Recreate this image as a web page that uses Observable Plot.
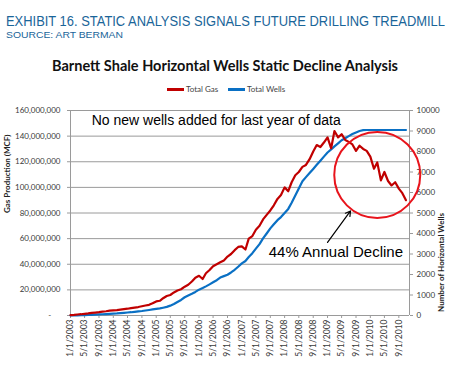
<!DOCTYPE html>
<html><head><meta charset="utf-8">
<script src="https://cdn.jsdelivr.net/npm/d3@7"></script>
<script src="https://cdn.jsdelivr.net/npm/@observablehq/plot@0.6"></script>
<style>
body{margin:0;width:450px;height:375px;overflow:hidden;background:#fff;position:relative;font-family:"Liberation Sans",Arial,sans-serif}
.abs{position:absolute;white-space:nowrap;line-height:1}
#h1{left:6px;top:14px;font-size:14px;color:#1a6599;transform-origin:0 0}
#h2{left:6px;top:30px;font-size:9.6px;color:#1a6599;transform-origin:0 0}
#t{top:55px;font:bold 16px Lato,sans-serif;color:#111;transform-origin:0 0}
.sw{position:absolute;width:17px;height:3px}
.lt{position:absolute;font:8px Lato,sans-serif;color:#444;line-height:1}
#chart{position:absolute;left:0;top:100px}
</style></head>
<body>
<div id="h1" class="abs">EXHIBIT 16. STATIC ANALYSIS SIGNALS FUTURE DRILLING TREADMILL</div>
<div id="h2" class="abs">SOURCE: ART BERMAN</div>
<div id="t" class="abs">Barnett Shale Horizontal Wells Static Decline Analysis</div>
<div class="sw" style="left:167px;top:88px;background:#c00000"></div>
<div class="lt" style="left:186px;top:85px">Total Gas</div>
<div class="sw" style="left:228px;top:88px;background:#0a70c4"></div>
<div class="lt" style="left:247px;top:85px">Total Wells</div>
<div id="chart"></div>
<script>
// ---- data (monthly, Jan 2003 .. Nov 2010) ----
const startMonth = Date.UTC(2003, 0, 1);
const endMonth = Date.UTC(2010, 11, 1);
const totalGasMillionMCF = [
  0.3, 0.5, 0.8, 1.0, 1.3, 1.6, 2.0, 2.3, 2.6, 3.0, 3.3, 3.8,
  4.0, 4.2, 4.6, 5.0, 5.3, 5.8, 6.2, 6.6, 7.2, 7.8, 8.3, 9.5,
  11.0, 11.5, 13.5, 15.2, 16.0, 18.0, 19.5, 20.5, 22.5, 24.0, 26.5, 29.5,
  31.0, 28.5, 33.0, 35.5, 38.5, 40.0, 41.5, 43.0, 46.0, 48.0, 51.0, 53.5,
  54.0, 51.5, 60.0, 62.0, 67.0, 70.0, 75.0, 78.5, 82.0, 86.0, 91.0, 94.0,
  100.0, 97.0, 104.0, 109.5, 112.0, 116.0, 117.5, 122.0, 128.0, 133.0, 131.5, 135.0,
  139.0, 130.5, 144.0, 139.0, 141.5, 137.0, 135.5, 133.5, 128.5, 132.5, 130.0, 128.5,
  124.0, 114.5, 119.5, 105.5, 112.0, 105.0, 101.5, 104.0, 99.0, 95.5, 90.0
];
const totalWells = [
  0, 5, 10, 15, 20, 30, 35, 45, 55, 60, 70, 80,
  90, 100, 115, 130, 145, 160, 180, 200, 220, 245, 270, 295,
  320, 345, 380, 420, 480, 560, 660, 760, 890, 980, 1060, 1150,
  1260, 1340, 1420, 1520, 1620, 1720, 1850, 1920, 1990, 2100, 2230, 2380,
  2540, 2660, 2850, 3040, 3260, 3480, 3760, 4000, 4250, 4450, 4650, 4800,
  5000, 5200, 5500, 5850, 6200, 6550, 6750, 6950, 7150, 7350, 7550, 7750,
  7950, 8100, 8250, 8400, 8550, 8650, 8750, 8850, 8930, 9000, 9040, 9050,
  9050, 9050, 9050, 9050, 9050, 9050, 9050, 9050, 9050, 9050, 9050
];
const gasTicks = [0, 20e6, 40e6, 60e6, 80e6, 100e6, 120e6, 140e6, 160e6];
const wellTicks = [0, 1000, 2000, 3000, 4000, 5000, 6000, 7000, 8000, 9000, 10000];
const wellsMax = 10000, gasMax = 160e6;

// annotations
const noteTop = {text: "No new wells added for last year of data", date: Date.UTC(2003, 6, 1), gas: 152e6};
const noteDecline = {text: "44% Annual Decline", date: Date.UTC(2009, 2, 13), gas: 49.2e6};
const circleNote = {date: Date.UTC(2010, 2, 1), gas: 109.7e6};
const arrowNote = {d1: Date.UTC(2009, 0, 1), g1: 57e6, d2: Date.UTC(2009, 6, 16), g2: 81.6e6};

// ---- build table ----
const months = d3.utcMonth.range(new Date(startMonth), new Date(endMonth));
const K = gasMax / wellsMax;
const rows = months.map((d, i) => ({date: d, gas: totalGasMillionMCF[i] * 1e6, wells: totalWells[i], wellsScaled: totalWells[i] * K}));
const xTicks = d3.utcMonth.every(4).range(new Date(startMonth), new Date(endMonth));
const fmtDate = d => `${d.getUTCMonth() + 1}/1/${d.getUTCFullYear()}`;
const axisColor = "#9a9a9a";

const chart = Plot.plot({
  width: 450, height: 275,
  marginLeft: 70, marginRight: 41, marginTop: 10, marginBottom: 60,
  style: {fontFamily: "Lato, sans-serif", fontSize: "8px", color: "#3a3a3a", background: "transparent", overflow: "visible"},
  x: {type: "utc", domain: [new Date(startMonth), new Date(endMonth)]},
  y: {domain: [0, gasMax]},
  marks: [
    Plot.ruleY(gasTicks, {stroke: axisColor, strokeWidth: 1}),
    Plot.ruleX([new Date(startMonth)], {stroke: axisColor}),
    Plot.ruleX([new Date(endMonth)], {stroke: axisColor}),
    Plot.axisY({ticks: gasTicks, tickFormat: d => d === 0 ? "-\u2007\u2007" : d3.format(",")(d), tickSize: 3, tickPadding: 7, stroke: axisColor, label: null, fontSize: 8}),
    Plot.axisY({anchor: "right", ticks: wellTicks.map(w => w * K), tickFormat: d => String(Math.round(d / K)), tickSize: 3, tickPadding: 4, stroke: axisColor, label: null, fontSize: 8}),
    Plot.axisX({ticks: xTicks, tickFormat: fmtDate, tickRotate: -90, tickSize: 3, tickPadding: 1, stroke: axisColor, label: null, fontSize: 8.5}),
    Plot.text(["Gas Production (MCF)"], {frameAnchor: "left", dx: -63, rotate: -90, fontWeight: "bold", fontSize: 8, fill: "#222"}),
    Plot.text(["Number of Horizontal Wells"], {frameAnchor: "right", dx: 32, rotate: -90, fontWeight: "bold", fontSize: 8, fill: "#222"}),
    Plot.line(rows, {x: "date", y: "wellsScaled", stroke: "#0a70c4", strokeWidth: 2.2}),
    Plot.line(rows, {x: "date", y: "gas", stroke: "#c00000", strokeWidth: 2.2}),
    Plot.dot([circleNote], {x: d => new Date(d.date), y: "gas", r: 43, stroke: "#e8141c", strokeWidth: 2, fill: "none"}),
    Plot.arrow([arrowNote], {x1: d => new Date(d.d1), y1: "g1", x2: d => new Date(d.d2), y2: "g2", stroke: "#000", strokeWidth: 1.2, headLength: 7}),
    Plot.text([noteTop], {x: d => new Date(d.date), y: "gas", text: "text", textAnchor: "start", fontSize: 14, fontFamily: "Liberation Sans, Arial, sans-serif", fill: "#000"}),
    Plot.text([noteDecline], {x: d => new Date(d.date), y: "gas", text: "text", fontSize: 15, fontFamily: "Liberation Sans, Arial, sans-serif", fill: "#000"})
  ]
});
document.getElementById("chart").appendChild(chart);

// fit header texts to the reference widths
function fit(id, width, left) {
  const el = document.getElementById(id);
  const w = el.getBoundingClientRect().width;
  el.style.transform = `scaleX(${width / w})`;
  if (left !== undefined) el.style.left = left + "px";
}
fit("h1", 439);
fit("h2", 117);
fit("t", 346, 52);
</script>
</body></html>
